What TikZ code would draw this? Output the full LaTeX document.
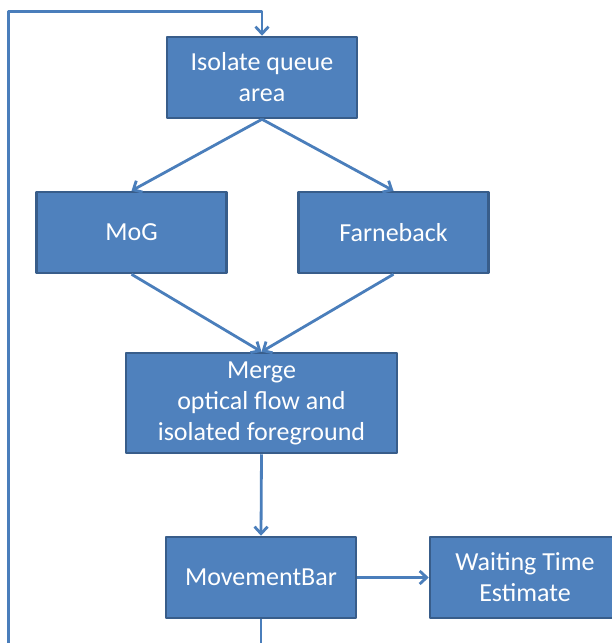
\documentclass[tikz,border=0pt]{standalone}
\usepackage{fontspec}
\setmainfont{Carlito}
\usetikzlibrary{arrows.meta}
\definecolor{boxblue}{HTML}{4F81BD}
\definecolor{boxedge}{HTML}{385D8A}
\definecolor{linkblue}{HTML}{4A7EBB}
\begin{document}
\begin{tikzpicture}[x=1pt,y=-1pt,line join=round,
	box/.style={draw=boxedge,line width=2.5pt,fill=boxblue,text=white,align=center,inner sep=0pt,
		minimum width=190,minimum height=81,font=\fontsize{26}{31}\selectfont},
	link/.style={linkblue,line width=2.8pt,-{Straight Barb[length=7pt,width=13pt]}}]
	\useasboundingbox (0,0) rectangle (612,643);
	\clip (0,0) rectangle (612,643);
	\node[box] (iso) at (262,77.5) {Isolate queue\\area};
	\node[box] (mog) at (131.5,232.5) {MoG};
	\node[box] (farn) at (393.5,232.5) {Farneback};
	\node[box,minimum width=271,minimum height=100] (merge) at (261.5,403) {Merge\\optical flow and\\isolated foreground};
	\node[box] (bar) at (261,577.5) {MovementBar};
	\node[box] (wait) at (525,577.5) {Waiting Time\\Estimate};
	% loop back (bottom part cut off)
	\coordinate (low) at (261,660);
	\coordinate (lowleft) at (8.5,660);
	\coordinate (topleft) at (8.5,11.5);
	\coordinate (top) at (262,11.5);
	\draw[link] (iso.south) -- (mog.north);
	\draw[link] (iso.south) -- (farn.north);
	\draw[link] (mog.south) -- (merge.north);
	\draw[link] (farn.south) -- (merge.north);
	\draw[link] (merge.south) -- (bar.north);
	\draw[link] (bar.east) -- (wait.west);
	\draw[link] (bar.south) -- (low) -- (lowleft) -- (topleft) -- (top) -- (iso.north);
\end{tikzpicture}
\end{document}
